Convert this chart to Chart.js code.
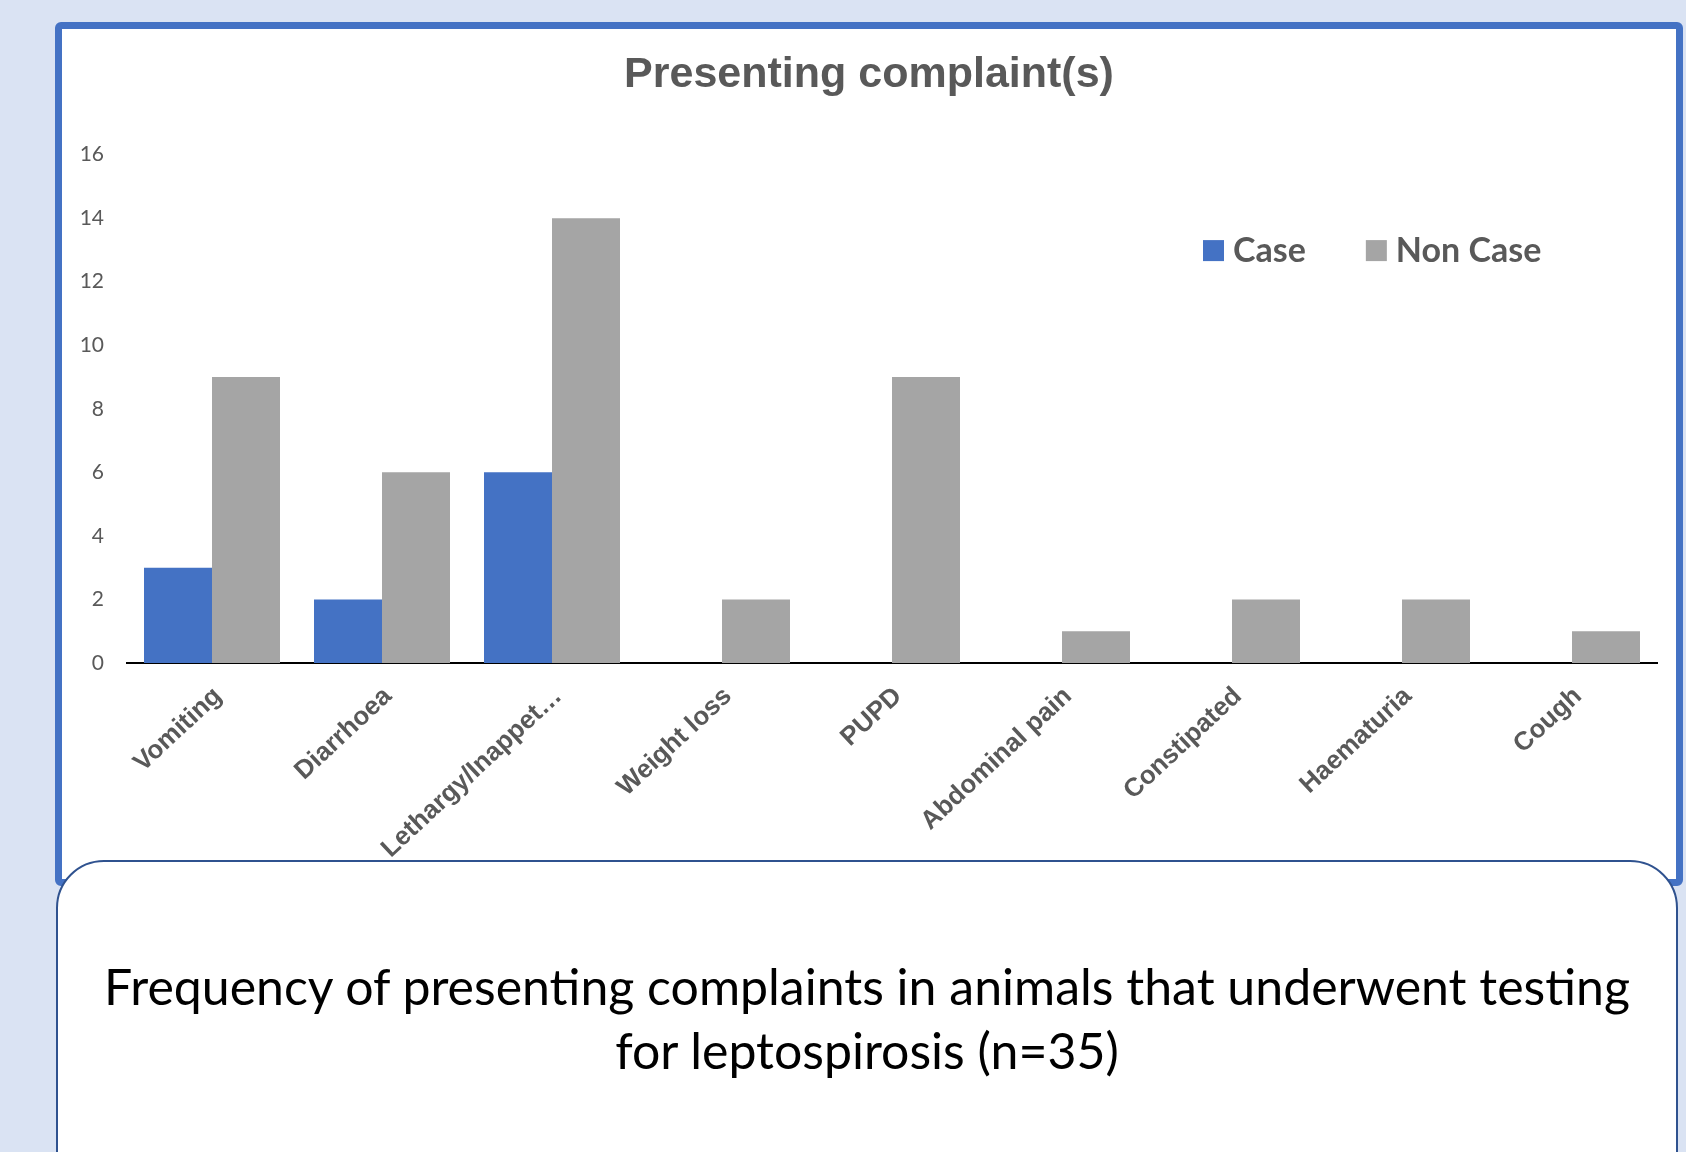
<!DOCTYPE html>
<html>
<head>
<meta charset="utf-8">
<script src="https://cdn.jsdelivr.net/npm/chart.js@4"></script>
<style>
    body {
        margin: 0;
        width: 1686px;
        height: 1152px;
        overflow: hidden;
        position: relative;
        background: #DAE3F3;
    }
    #frame {
        position: absolute;
        left: 55px;
        top: 22px;
        width: 1614px;
        height: 850px;
        border: 7px solid #4472C4;
        border-radius: 6px;
        background: #fff;
    }
    #frame canvas {
        display: block;
    }
    #caption {
        position: absolute;
        left: 56px;
        top: 860px;
        width: 1622px;
        height: 360px;
        border: 2.5px solid #2F528F;
        border-radius: 48px;
        background: #fff;
        box-sizing: border-box;
        padding-top: 92px;
        text-align: center;
        font-family: Lato, "Open Sans", sans-serif;
        font-size: 50px;
        line-height: 64px;
        color: #000;
    }
</style>
</head>
<body>
<div id="frame">
    <canvas id="complaintsChart" width="1614" height="850"></canvas>
</div>
<div id="caption">Frequency of presenting complaints in animals that underwent testing<br>for leptospirosis (n=35)</div>

<script>
// Chart data
const complaints = ['Vomiting', 'Diarrhoea', 'Lethargy/Inappet…', 'Weight loss', 'PUPD',
    'Abdominal pain', 'Constipated', 'Haematuria', 'Cough'];
const caseCounts = [3, 2, 6, 0, 0, 0, 0, 0, 0];
const nonCaseCounts = [9, 6, 14, 2, 9, 1, 2, 2, 1];
const yTicks = [0, 2, 4, 6, 8, 10, 12, 14, 16];

const GREY_TEXT = '#595959';

// Legend drawn inside the plot area (top right), like the Excel original
const insideLegend = {
    id: 'insideLegend',
    afterDraw(chart, args, opts) {
        const ctx = chart.ctx;
        const area = chart.chartArea;
        let x = area.right - opts.offsetRight;
        const y = area.top + opts.offsetTop;

        ctx.save();
        ctx.font = opts.font;
        ctx.textBaseline = 'middle';
        ctx.textAlign = 'left';
        chart.data.datasets.forEach(ds => {
            ctx.fillStyle = ds.backgroundColor;
            ctx.fillRect(x, y - opts.boxSize / 2, opts.boxSize, opts.boxSize);
            ctx.fillStyle = opts.color;
            ctx.fillText(ds.label, x + opts.boxSize + opts.gap, y);
            x += opts.boxSize + opts.gap + ctx.measureText(ds.label).width + opts.itemGap;
        });
        ctx.restore();
    }
};

const ctx = document.getElementById('complaintsChart').getContext('2d');
const complaintsChart = new Chart(ctx, {
    type: 'bar',
    data: {
        labels: complaints,
        datasets: [{
            label: 'Case',
            data: caseCounts,
            backgroundColor: '#4472C4',
            borderWidth: 0
        }, {
            label: 'Non Case',
            data: nonCaseCounts,
            backgroundColor: '#A5A5A5',
            borderWidth: 0
        }]
    },
    options: {
        responsive: false,
        animation: false,
        layout: {
            // equal side padding keeps the title centred on the frame
            padding: { left: 19, right: 19, top: 0, bottom: 0 }
        },
        datasets: {
            bar: {
                categoryPercentage: 0.8,
                barPercentage: 1.0
            }
        },
        plugins: {
            legend: { display: false },
            tooltip: { enabled: false },
            title: {
                display: true,
                text: 'Presenting complaint(s)',
                color: GREY_TEXT,
                font: { family: '"Liberation Sans", Arial, sans-serif', size: 43, weight: 'bold' },
                padding: { top: 20, bottom: 54 }
            },
            insideLegend: {
                font: 'bold 34px Lato, "Open Sans", sans-serif',
                color: GREY_TEXT,
                boxSize: 21,
                gap: 9,
                itemGap: 60,
                offsetRight: 454,
                offsetTop: 96
            }
        },
        scales: {
            x: {
                grid: { display: false },
                border: { display: true, color: '#000', width: 2 },
                ticks: {
                    color: GREY_TEXT,
                    font: { family: '"Liberation Sans", Arial, sans-serif', size: 26, weight: 'bold' },
                    minRotation: 43,
                    maxRotation: 43,
                    autoSkip: false,
                    padding: 10,
                    labelOffset: 6
                },
                afterFit(scale) {
                    scale.height = 216;
                }
            },
            y: {
                min: 0,
                max: 16,
                grid: { display: false },
                border: { display: false },
                afterBuildTicks(scale) {
                    scale.ticks = yTicks.map(v => ({ value: v }));
                },
                ticks: {
                    color: GREY_TEXT,
                    font: { family: 'Lato, "Open Sans", sans-serif', size: 21 },
                    padding: 15
                },
                afterFit(scale) {
                    scale.width = 46;
                }
            }
        }
    },
    plugins: [insideLegend]
});
</script>
</body>
</html>
